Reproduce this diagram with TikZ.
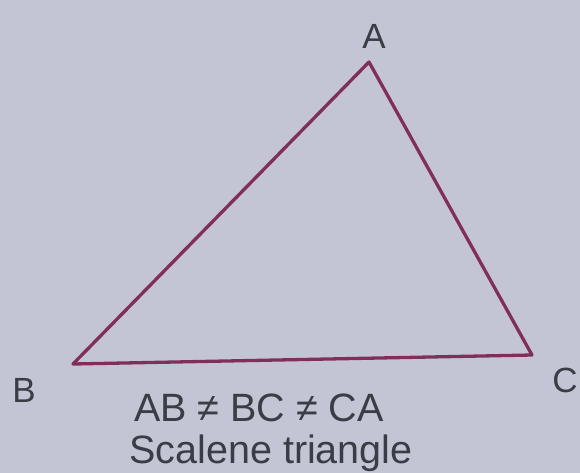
\documentclass[tikz,border=0pt]{standalone}
\usepackage{fontspec}
\setmainfont{Liberation Sans}
\definecolor{bg}{RGB}{196,197,212}
\definecolor{edge}{RGB}{128,48,88}
\definecolor{ink}{RGB}{58,60,70}
\begin{document}
\begin{tikzpicture}[x=1pt,y=-1pt,
  vlabel/.style={text=ink,font=\fontsize{35}{40}\selectfont,inner sep=0pt},
  caption/.style={text=ink,font=\fontsize{39.5}{44}\selectfont,inner sep=0pt,anchor=base}]
\fill[bg] (0,0) rectangle (580,473);
\useasboundingbox (0,0) rectangle (580,473);
\coordinate (A) at (369,62);
\coordinate (B) at (73,364);
\coordinate (C) at (532,355);
\draw[edge,line width=3.3pt,line join=round] (A) -- (B) -- (C) -- cycle;
\node[vlabel] (la) at (374,36) {A};
\node[vlabel] (lb) at (24,390) {B};
\node[vlabel] (lc) at (565,380) {C};
\node[caption] (t1) at (259,421) {AB ≠ BC ≠ CA};
\node[caption] (t2) at (271,463) {Scalene triangle};
\end{tikzpicture}
\end{document}
